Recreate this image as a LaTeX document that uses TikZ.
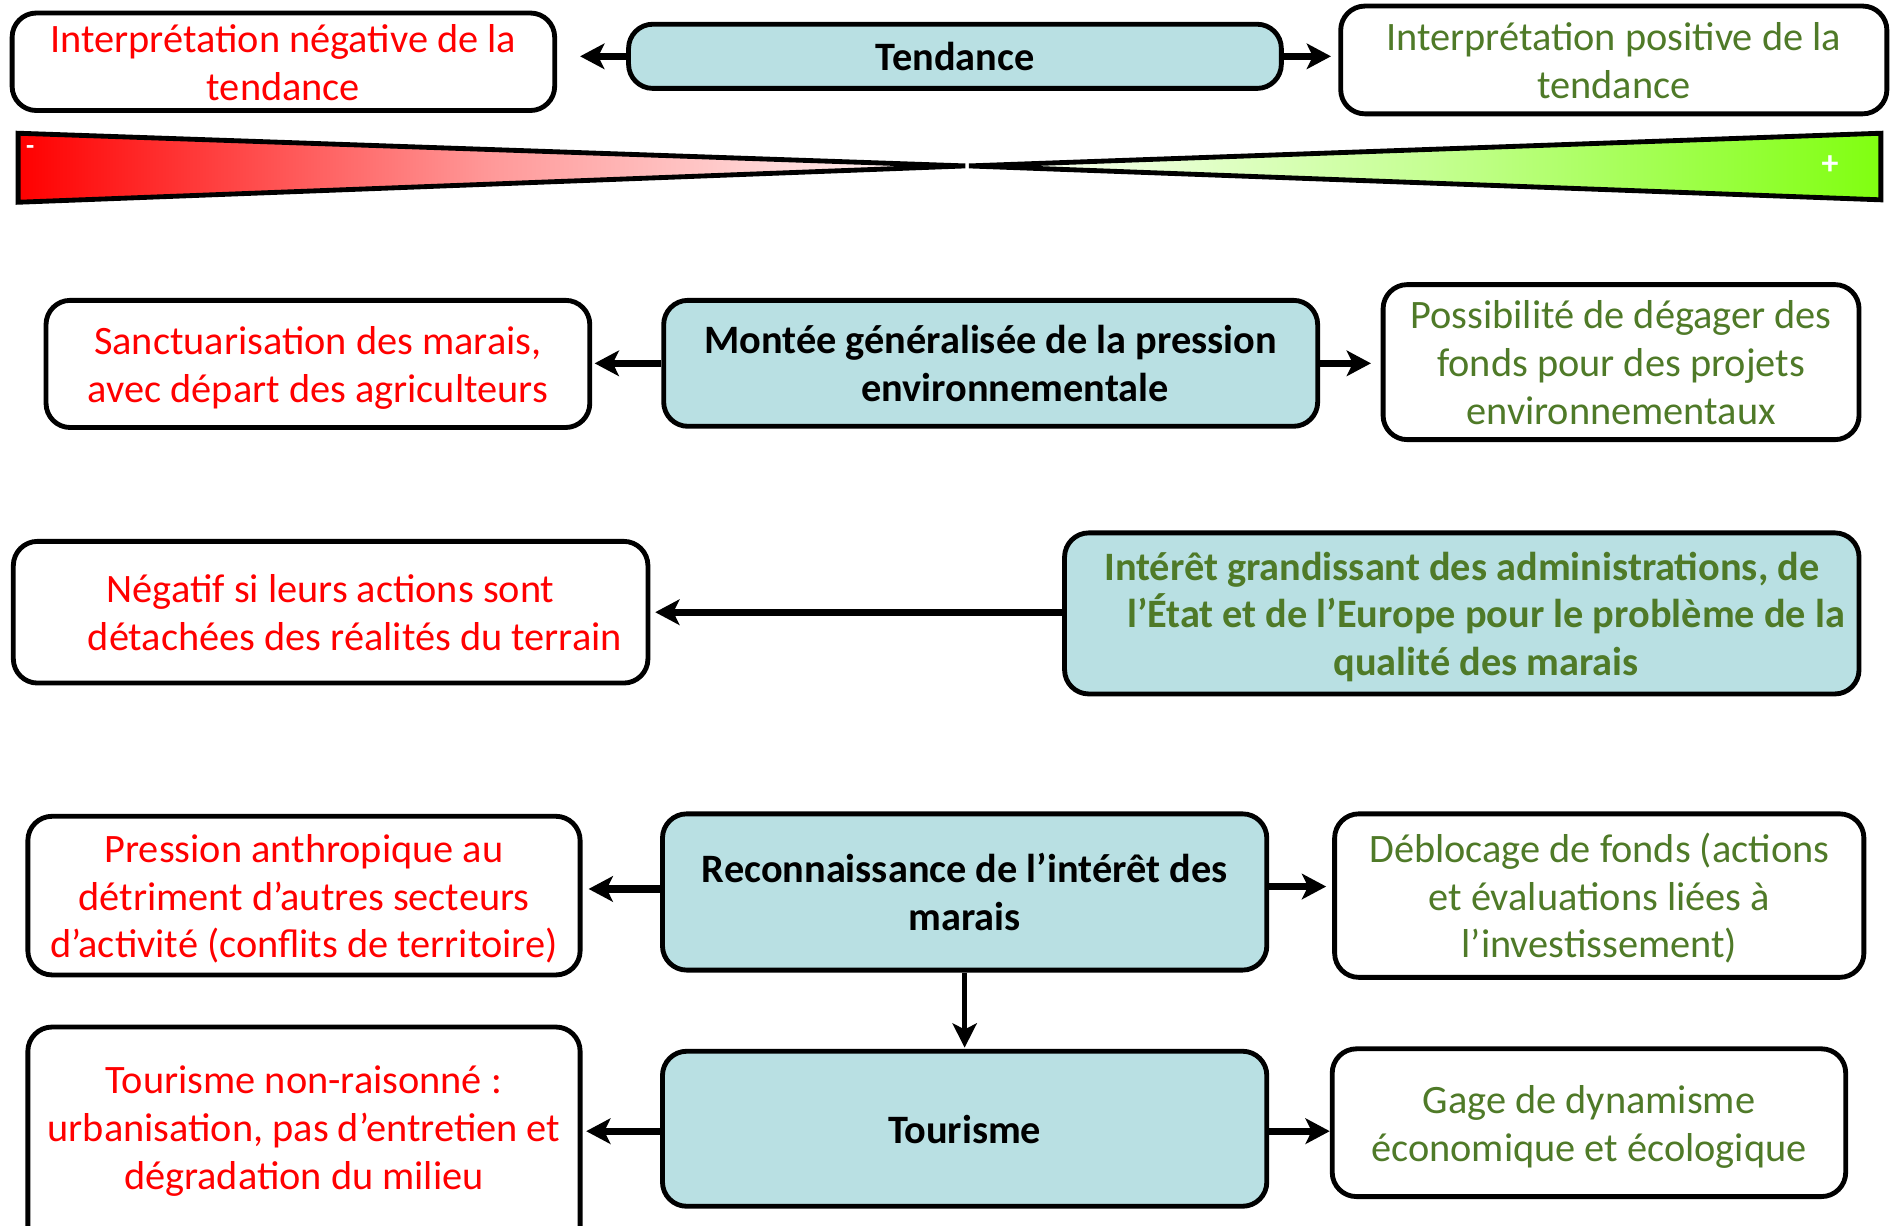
\documentclass[tikz,border=0pt]{standalone}
\usepackage{fontspec}
\setmainfont{Carlito}
\usetikzlibrary{arrows.meta}
\definecolor{negred}{RGB}{255,0,0}
\definecolor{posgreen}{RGB}{79,122,40}
\definecolor{boxblue}{RGB}{185,224,227}
\definecolor{brightgreen}{RGB}{128,255,16}
\newcommand\TopL{\rule{0pt}{32.5pt}}
\newcommand\BotL{\rule[-8.5pt]{0pt}{8.5pt}}
\tikzset{
  basebox/.style={draw=black, line width=4pt, rounded corners=20pt, align=center, inner sep=0pt, font=\fontsize{33.3}{39.5}\selectfont},
  negbox/.style={basebox, fill=white, text=negred},
  posbox/.style={basebox, fill=white, text=posgreen},
  midbox/.style={basebox, fill=boxblue, text=black, font=\fontsize{33.3}{39.5}\selectfont\bfseries},
  arr/.style={line width=6pt, -{Stealth[length=20pt,width=21pt,inset=5pt]}},
  thinarr/.style={line width=4.5pt, -{Stealth[length=20pt,width=20pt,inset=5pt]}},
}
\begin{document}
\begin{tikzpicture}[x=1pt,y=-1pt]
\useasboundingbox (0,0) rectangle (1568,1012);
\clip (0,0) rectangle (1568,1012);
% Row 1
\node[negbox, minimum width=448pt, minimum height=78pt] (neg1) at (234,51) {\TopL Interprétation négative de la\\tendance\BotL};
\node[midbox, minimum width=539pt, minimum height=53pt] (tend) at (788.5,46.5) {\TopL Tendance\BotL};
\node[posbox, minimum width=451pt, minimum height=89pt] (pos1) at (1332.5,49.5) {\TopL Interprétation positive de la\\tendance\BotL};
\draw[arr, shorten >=19pt] (tend.west) -- (tend.west -| neg1.east);
\draw[arr, shorten >=6pt] (tend.east) -- (tend.east -| pos1.west);
% gradient triangles
\coordinate (lt) at (15,110);
\coordinate (lb) at (15,167);
\coordinate (ltip) at (797,137);
\coordinate (rtip) at (800,137);
\coordinate (rt) at (1553,110);
\coordinate (rb) at (1553,165);
\shade[left color=negred, right color=white, middle color=negred!40] (lt) -- (ltip) -- (lb) -- cycle;
\draw[line width=4pt, line join=miter] (lt) -- (ltip) -- (lb) -- cycle;
\shade[left color=white, right color=brightgreen, middle color=brightgreen!45] (rtip) -- (rt) -- (rb) -- cycle;
\draw[line width=4pt, line join=miter] (rtip) -- (rt) -- (rb) -- cycle;
\node[text=white, font=\fontsize{22}{26}\selectfont\bfseries, inner sep=0pt] (minus) at (25,124) {-};
\node[text=white, font=\fontsize{28}{32}\selectfont\bfseries, inner sep=0pt] (plus) at (1511,136) {+};
% Row 2
\node[negbox, minimum width=449pt, minimum height=105pt] (neg2) at (262.5,300.5) {\TopL Sanctuarisation des marais,\\avec départ des agriculteurs\BotL};
\node[midbox, minimum width=540pt, minimum height=104pt] (mid2) at (818,300) {\TopL Montée généralisée de la pression\\ \hspace*{40pt}environnementale\BotL};
\node[posbox, minimum width=393pt, minimum height=128pt] (pos2) at (1338.5,299) {\TopL Possibilité de dégager des\\fonds pour des projets\\environnementaux\BotL};
\draw[arr, shorten >=2pt] (mid2.west) -- (mid2.west -| neg2.east);
\draw[arr, shorten >=8pt] (mid2.east) -- (mid2.east -| pos2.west);
% Row 3
\node[negbox, minimum width=524pt, minimum height=117pt] (neg3) at (273,505.5) {\TopL Négatif si leurs actions sont\\ \hspace*{40pt}détachées des réalités du terrain\BotL};
\node[midbox, text=posgreen, minimum width=656pt, minimum height=133pt] (mid3) at (1207,506.5) {\TopL Intérêt grandissant des administrations, de\\ \hspace*{40pt}l’État et de l’Europe pour le problème de la\\ \hspace*{40pt}qualité des marais\BotL};
\draw[arr, shorten >=4pt] (mid3.west |- neg3.east) -- (neg3.east);
% Row 4
\node[negbox, minimum width=456pt, minimum height=131pt] (neg4) at (251,739.5) {\TopL Pression anthropique au\\détriment d’autres secteurs\\d’activité (conflits de territoire)\BotL};
\node[midbox, minimum width=499pt, minimum height=129pt] (mid4) at (796.5,736.5) {\TopL Reconnaissance de l’intérêt des\\marais\BotL};
\node[posbox, minimum width=437pt, minimum height=135pt] (pos4) at (1320.5,739.5) {\TopL Déblocage de fonds (actions\\et évaluations liées à\\l’investissement)\BotL};
\draw[arr, shorten >=5pt] ([yshift=2.5pt]mid4.west) -- ([yshift=2.5pt]mid4.west -| neg4.east);
\draw[arr, shorten >=5pt] ([yshift=4.5pt]mid4.east) -- ([yshift=4.5pt]mid4.east -| pos4.west);
% Row 5
\node[negbox, minimum width=456pt, minimum height=240pt, anchor=north] (neg5) at (251,846) {};
\node[text=negred, align=center, inner sep=0pt, font=\fontsize{33.3}{39.5}\selectfont] (neg5t) at (251,930.5) {\TopL Tourisme non-raisonné :\\urbanisation, pas d’entretien et\\dégradation du milieu\BotL};
\node[midbox, minimum width=499pt, minimum height=128pt] (mid5) at (796.5,932) {\TopL Tourisme\BotL};
\node[posbox, minimum width=424pt, minimum height=122pt] (pos5) at (1312,927) {\TopL Gage de dynamisme\\économique et écologique\BotL};
\draw[arr, shorten >=3pt] ([yshift=-2pt]mid5.west) -- ([yshift=-2pt]mid5.west -| neg5.east);
\draw[arr] ([yshift=-2pt]mid5.east) -- ([yshift=-2pt]mid5.east -| pos5.west);
\draw[thinarr, shorten >=1pt] (mid4.south) -- (mid5.north);
\end{tikzpicture}
\end{document}
